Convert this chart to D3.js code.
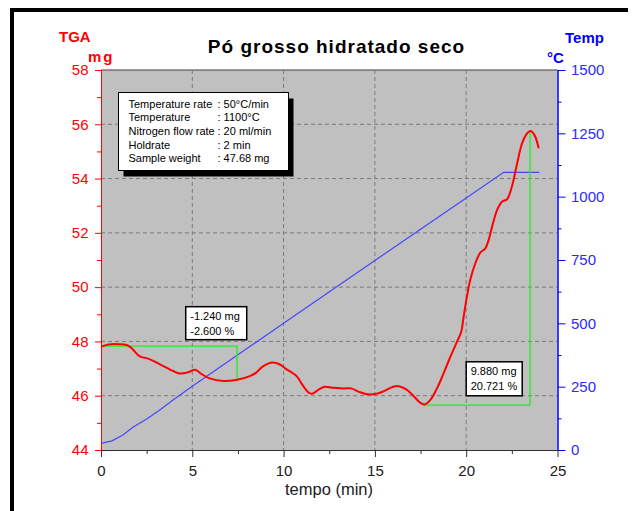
<!DOCTYPE html>
<html>
<head>
<meta charset="utf-8">
<script src="https://cdn.jsdelivr.net/npm/d3@7"></script>
<style>
    body { margin: 0; background: #fff; }
    svg { display: block; font-family: "Liberation Sans", Arial, sans-serif; }
</style>
</head>
<body>
<div id="chart"></div>
<script>

// TGA curve: time (min) and mass (mg)
const tgaTime = [0.0, 0.4, 1.0, 1.4, 1.65, 2.1, 2.65, 3.3, 3.95, 4.3, 4.75, 5.15, 5.5, 5.95, 6.7, 7.4,
    8.15, 8.5, 8.85, 9.4, 9.8, 10.1, 10.7, 11.06, 11.4, 11.6, 11.9, 12.25, 12.7, 13.25, 13.7, 14.1,
    14.6, 15.1, 15.5, 16.0, 16.3, 16.7, 17.1, 17.45, 17.7, 18.03, 18.4, 18.76, 19.13, 19.5, 19.73,
    19.86, 20.04, 20.22, 20.5, 20.77, 21.05, 21.23, 21.42, 21.69, 21.96, 22.24, 22.5, 22.79, 23.06,
    23.34, 23.52, 23.74, 23.97]
const tgaMass = [47.80, 47.89, 47.90, 47.87, 47.77, 47.46, 47.35, 47.13, 46.91, 46.82, 46.86, 46.96,
    46.80, 46.64, 46.54, 46.58, 46.72, 46.85, 47.07, 47.22, 47.15, 47.00, 46.73, 46.37, 46.10, 46.08,
    46.22, 46.33, 46.29, 46.27, 46.27, 46.15, 46.05, 46.07, 46.17, 46.33, 46.35, 46.24, 46.00, 45.76,
    45.68, 45.84, 46.27, 46.82, 47.43, 47.99, 48.36, 48.91, 49.65, 50.26, 50.88, 51.27, 51.43, 51.74,
    52.23, 52.84, 53.15, 53.24, 53.70, 54.56, 55.30, 55.67, 55.75, 55.60, 55.12]

// Temperature program: time (min) and temperature (°C)
const tempTime = [0, 0.6, 1.2, 1.75, 2.5, 3.2, 4, 5, 10, 15, 20, 22.05, 24]
const tempValue = [26, 36, 59, 90, 122, 157, 200, 252, 500, 748, 995, 1096, 1096]

// Mass change steps (green markers)
const stepStart = [0, 17.66]
const stepEnd = [7.45, 23.5]
const stepFrom = [47.83, 45.65]
const stepTo = [46.55, 55.73]
const stepLabels = [["-1.240 mg", "-2.600 %"], ["9.880 mg", "20.721 %"]]

// Run conditions
const infoLabels = ["Temperature rate", "Temperature", "Nitrogen flow rate", "Holdrate", "Sample weight"]
const infoValues = [": 50°C/min", ": 1100°C", ": 20 ml/min", ": 2 min", ": 47.68 mg"]

// Ticks
const massTicks = [44, 46, 48, 50, 52, 54, 56, 58]
const massMinor = [45, 47, 49, 51, 53, 55, 57]
const tempTicks = [0, 250, 500, 750, 1000, 1250, 1500]
const tempMinor = [125, 375, 625, 875, 1125, 1375]
const timeTicks = [0, 5, 10, 15, 20, 25]
const timeMinor = [2.5, 7.5, 12.5, 17.5, 22.5]

const W = 633, H = 511
const margin = { top: 70, right: 75.5, bottom: 61, left: 101 },
    width = W - margin.left - margin.right,
    height = H - margin.top - margin.bottom

const svg = d3.select("#chart")
    .append("svg")
    .attr("width", W)
    .attr("height", H)

// Outer frame (only top and left edges are visible)
svg.append("line").attr("x1", 10).attr("x2", 628).attr("y1", 10).attr("y2", 10)
    .attr("stroke", "black").attr("stroke-width", 4)
svg.append("line").attr("x1", 12).attr("x2", 12).attr("y1", 8).attr("y2", H)
    .attr("stroke", "black").attr("stroke-width", 4)

const g = svg.append("g")
    .attr("transform", `translate(${margin.left},${margin.top})`)

// Scales
const xScale = d3.scaleLinear().domain([0, 25]).range([0, width])
const yScale = d3.scaleLinear().domain([44, 58]).range([height, 0])
const tScale = d3.scaleLinear().domain([0, 1500]).range([height, 0])

// Plot background
g.append("rect")
    .attr("width", width)
    .attr("height", height)
    .attr("fill", "#c0c0c0")
g.append("line")
    .attr("x1", 0).attr("x2", width)
    .attr("stroke", "#404040")

// Grid
g.append("g").selectAll("line")
    .data(timeTicks.slice(1, -1))
    .enter().append("line")
    .attr("x1", d => xScale(d)).attr("x2", d => xScale(d))
    .attr("y1", 0).attr("y2", height)
    .attr("stroke", "#7a7a7a").attr("stroke-dasharray", "4,3")
g.append("g").selectAll("line")
    .data(massTicks.slice(1, -1))
    .enter().append("line")
    .attr("x1", 0).attr("x2", width)
    .attr("y1", d => yScale(d)).attr("y2", d => yScale(d))
    .attr("stroke", "#7a7a7a").attr("stroke-dasharray", "4,3")

// Temperature line
const tempData = tempTime.map((t, i) => ({ t: t, v: tempValue[i] }))
g.append("path")
    .datum(tempData)
    .attr("fill", "none")
    .attr("stroke", "#4646ff")
    .attr("stroke-width", 1.2)
    .attr("d", d3.line().x(d => xScale(d.t)).y(d => tScale(d.v)))

// Step markers
stepStart.forEach((s, i) => {
    const pts = [[s, stepFrom[i]], [stepEnd[i], stepFrom[i]], [stepEnd[i], stepTo[i]]]
    g.append("path")
        .datum(pts)
        .attr("fill", "none")
        .attr("stroke", "#22ee22")
        .attr("stroke-width", 1.3)
        .attr("d", d3.line().x(d => xScale(d[0])).y(d => yScale(d[1])))
})

// TGA curve
const tgaData = tgaTime.map((t, i) => ({ t: t, m: tgaMass[i] }))
g.append("path")
    .datum(tgaData)
    .attr("fill", "none")
    .attr("stroke", "#ff0000")
    .attr("stroke-width", 2)
    .attr("d", d3.line().curve(d3.curveCatmullRom.alpha(0.5)).x(d => xScale(d.t)).y(d => yScale(d.m)))

// Step label boxes (top-left corner in data units)
const boxPos = [[4.64, 49.28, 61, 33], [20.0, 47.25, 56, 34]]
stepLabels.forEach((lines, i) => {
    const bx = xScale(boxPos[i][0]), by = yScale(boxPos[i][1])
    const box = g.append("g").attr("transform", `translate(${bx},${by})`)
    box.append("rect")
        .attr("width", boxPos[i][2]).attr("height", boxPos[i][3])
        .attr("fill", "white").attr("stroke", "black").attr("stroke-width", 1.5)
    box.selectAll("text")
        .data(lines)
        .enter().append("text")
        .attr("x", 4.5)
        .attr("y", (d, j) => 13.5 + j * 14.5)
        .attr("font-size", 11)
        .style("fill", "black")
        .text(d => d)
})

// Info box
const info = svg.append("g").attr("transform", "translate(118.5,92.5)")
info.append("rect").attr("x", 5).attr("y", 6).attr("width", 170).attr("height", 78).attr("fill", "black")
info.append("rect").attr("width", 170).attr("height", 78)
    .attr("fill", "white").attr("stroke", "black").attr("stroke-width", 1)
info.selectAll(".lbl")
    .data(infoLabels)
    .enter().append("text")
    .attr("class", "lbl")
    .attr("x", 10)
    .attr("y", (d, i) => 15 + i * 13.7)
    .attr("font-size", 11)
    .text(d => d)
info.selectAll(".val")
    .data(infoValues)
    .enter().append("text")
    .attr("class", "val")
    .attr("x", 99)
    .attr("y", (d, i) => 15 + i * 13.7)
    .attr("font-size", 11)
    .text(d => d)

// Axes
function styleAxis(sel, color, textColor) {
    sel.select(".domain").attr("stroke", color)
    sel.selectAll(".tick line").attr("stroke", color)
    sel.selectAll(".tick text").attr("fill", textColor).attr("font-size", 15)
        .attr("font-family", "Liberation Sans, Arial, sans-serif")
}

const fmt = d3.format("d")

const leftAxis = g.append("g")
    .call(d3.axisLeft(yScale).tickValues(massTicks).tickFormat(fmt).tickSize(6).tickSizeOuter(0).tickPadding(6.5))
styleAxis(leftAxis, "#ff0000", "#ff0000")
const leftMinor = g.append("g")
    .call(d3.axisLeft(yScale).tickValues(massMinor).tickSize(4).tickSizeOuter(0).tickFormat(""))
styleAxis(leftMinor, "#ff0000", "#ff0000")

const rightAxis = g.append("g")
    .attr("transform", `translate(${width},0)`)
    .call(d3.axisRight(tScale).tickValues(tempTicks).tickFormat(fmt).tickSize(8).tickSizeOuter(0).tickPadding(5.5))
styleAxis(rightAxis, "#0000ff", "#2b2bff")
const rightMinor = g.append("g")
    .attr("transform", `translate(${width},0)`)
    .call(d3.axisRight(tScale).tickValues(tempMinor).tickSize(4).tickSizeOuter(0).tickFormat(""))
styleAxis(rightMinor, "#0000ff", "#0000ff")

const bottomAxis = g.append("g")
    .attr("transform", `translate(0,${height})`)
    .call(d3.axisBottom(xScale).tickValues(timeTicks).tickFormat(fmt).tickSize(7).tickSizeOuter(0).tickPadding(8))
styleAxis(bottomAxis, "#303030", "#202020")
const bottomMinor = g.append("g")
    .attr("transform", `translate(0,${height})`)
    .call(d3.axisBottom(xScale).tickValues(timeMinor).tickSize(4).tickSizeOuter(0).tickFormat(""))
styleAxis(bottomMinor, "#303030", "#202020")

// Titles and axis labels
svg.append("text")
    .attr("x", 336.5).attr("y", 52.5)
    .attr("text-anchor", "middle")
    .attr("font-size", 19).attr("font-weight", "bold")
    .attr("letter-spacing", 1)
    .style("fill", "black")
    .text("Pó grosso hidratado seco")

svg.append("text")
    .attr("x", 329).attr("y", 495)
    .attr("text-anchor", "middle")
    .attr("font-size", 16.5)
    .style("fill", "#202020")
    .text("tempo (min)")

svg.append("text").attr("x", 59).attr("y", 41.5)
    .attr("font-size", 15).attr("font-weight", "bold").style("fill", "#ff0000")
    .text("TGA")
svg.append("text").attr("x", 88).attr("y", 62)
    .attr("font-size", 15).attr("font-weight", "bold").attr("letter-spacing", 2).style("fill", "#ff0000")
    .text("mg")
svg.append("text").attr("x", 565).attr("y", 43)
    .attr("font-size", 15).attr("font-weight", "bold").style("fill", "#0000ff")
    .text("Temp")
svg.append("text").attr("x", 547).attr("y", 63)
    .attr("font-size", 15).attr("font-weight", "bold").style("fill", "#0000ff")
    .text("°C")

</script>
</body>
</html>
